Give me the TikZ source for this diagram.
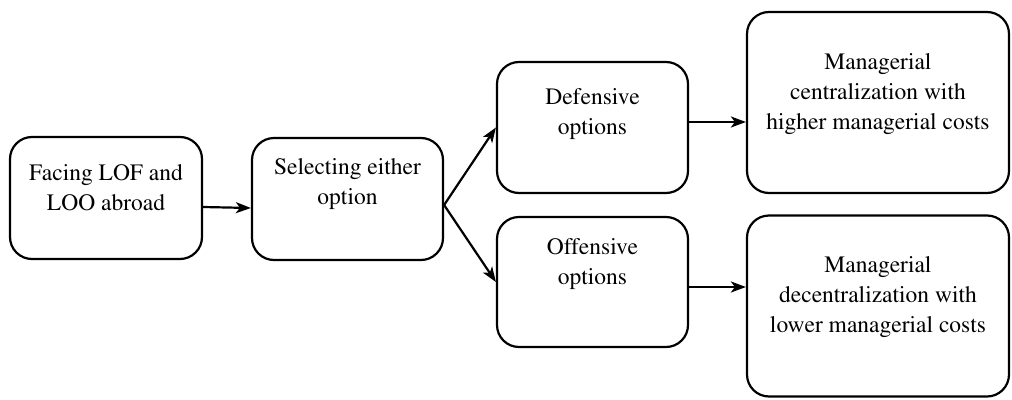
\documentclass[tikz,border=0pt]{standalone}
\usepackage[T1]{fontenc}
\renewcommand{\rmdefault}{ptm}
\usetikzlibrary{arrows.meta}
\begin{document}
\begin{tikzpicture}[x=1pt,y=-1pt,
  box/.style={draw,line width=2.2pt,rounded corners=22pt,inner sep=0pt},
  txt/.style={align=center,font=\rmfamily\fontsize{23.5}{30}\selectfont,inner sep=0pt},
  arr/.style={line width=2.2pt,-{Stealth[length=15pt,width=11pt,inset=4pt]}}]
\useasboundingbox (0,0) rectangle (1012,399);
\node[box,minimum width=192pt,minimum height=122pt] (b1) at (106,198) {};
\node[box,minimum width=191pt,minimum height=122pt] (b2) at (347.5,199) {};
\node[box,minimum width=191pt,minimum height=131pt] (b3) at (592.5,127.5) {};
\node[box,minimum width=191pt,minimum height=130pt] (b4) at (592.5,282) {};
\node[box,minimum width=262pt,minimum height=181pt] (b5) at (878,102.5) {};
\node[box,minimum width=262pt,minimum height=181pt] (b6) at (878,306) {};
\node[txt] (t1) at (106,188) {Facing LOF and\\LOO abroad};
\node[txt] (t2) at (347.5,184) {Selecting either\\option};
\node[txt] (t3) at (592.5,114) {Defensive\\options};
\node[txt] (t4) at (592.5,264) {Offensive\\options};
\node[txt] (t5) at (878,94) {Managerial\\centralization with\\higher managerial costs};
\node[txt] (t6) at (878,297) {Managerial\\decentralization with\\lower managerial costs};
\draw[arr] ([yshift=-9pt]b1.east) -- ([yshift=-9pt]b2.west);
\draw[arr] ([yshift=-6pt]b2.east) -- (b3.west);
\draw[arr] ([yshift=-6pt]b2.east) -- (b4.west);
\draw[arr] ([yshift=5.5pt]b3.east) -- ([yshift=5.5pt]b3.east -| b5.west);
\draw[arr] ([yshift=-5pt]b4.east) -- ([yshift=-5pt]b4.east -| b6.west);
\end{tikzpicture}
\end{document}
